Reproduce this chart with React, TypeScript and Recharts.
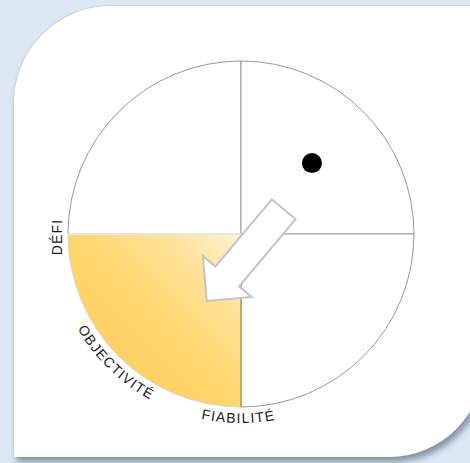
import { PieChart, Pie, Cell, ScatterChart, Scatter, XAxis, YAxis, ReferenceLine } from 'recharts';

// four equal quadrants, clockwise from top-left
const quadrants = [
  { name: 'top-left', value: 1 },
  { name: 'top-right', value: 1 },
  { name: 'bottom-right', value: 1 },
  { name: 'bottom-left', value: 1 },
];
const quadrantFills = ['#ffffff', '#ffffff', '#ffffff', 'url(#goldFill)'];
const quadrantStrokes = ['#9a9a9a', '#9a9a9a', '#9a9a9a', '#d6d6d6'];

// labels of the highlighted quadrant: start edge, middle, end edge
const edgeLabels = ['DÉFI', 'OBJECTIVITÉ', 'FIABILITÉ'];

// position marker, in unit-circle coordinates
const positions = [{ x: 0.41, y: 0.41 }];

// movement arrow: tail -> tip, unit-circle coordinates
const arrowSegment = [
  { x: 0.247, y: 0.143 },
  { x: -0.198, y: -0.387 },
];

const W = 470;
const H = 463;
const CX = 241;
const CY = 234;
const R = 173;

const FONT = '"Liberation Sans", Arial, sans-serif';

function polar(cx: number, cy: number, r: number, deg: number) {
  const a = (deg * Math.PI) / 180;
  return { x: cx + r * Math.cos(a), y: cy - r * Math.sin(a) };
}

// arc drawn counter-clockwise on screen, so text sits upright outside the bottom
function arcPath(cx: number, cy: number, r: number, a0: number, a1: number) {
  const p0 = polar(cx, cy, r, a0);
  const p1 = polar(cx, cy, r, a1);
  const large = a1 - a0 > 180 ? 1 : 0;
  return `M ${p0.x} ${p0.y} A ${r} ${r} 0 ${large} 0 ${p1.x} ${p1.y}`;
}

function QuadrantLabels(props: any) {
  const { cx, cy, outerRadius, startAngle, endAngle, index } = props;
  if (index !== 3) return <g />;
  const mid = (startAngle + endAngle) / 2;
  const lo = Math.min(startAngle, endAngle);
  const rText = outerRadius + 16;
  const textStyle = { fontFamily: FONT, fontSize: 14, letterSpacing: 1.2, fill: '#1a1a1a' };
  const dx = cx - outerRadius - 6;
  const dy = cy + 3;
  return (
    <g>
      <defs>
        <path id="arcMid" d={arcPath(cx, cy, rText, mid - 40, mid + 40)} />
        <path id="arcEnd" d={arcPath(cx, cy, rText, lo + 50, lo + 130)} />
      </defs>
      <line x1={cx} y1={cy} x2={cx} y2={cy + outerRadius} stroke="#c39a45" strokeWidth={1.5} />
      <line x1={cx - outerRadius} y1={cy} x2={cx} y2={cy} stroke="#e6e6e6" strokeWidth={2} />
      <text x={dx} y={dy} transform={`rotate(-90 ${dx} ${dy})`} textAnchor="middle" style={textStyle}>
        {edgeLabels[0]}
      </text>
      <text style={textStyle}>
        <textPath href="#arcMid" startOffset="51%" textAnchor="middle">
          {edgeLabels[1]}
        </textPath>
      </text>
      <text style={textStyle}>
        <textPath href="#arcEnd" startOffset="49%" textAnchor="middle">
          {edgeLabels[2]}
        </textPath>
      </text>
    </g>
  );
}

function BlockArrow(props: any) {
  const { x1, y1, x2, y2 } = props;
  const dx = x2 - x1;
  const dy = y2 - y1;
  const len = Math.hypot(dx, dy);
  const ux = dx / len;
  const uy = dy / len;
  const nx = -uy;
  const ny = ux;
  const shaft = 15.5;
  const head = 32;
  const headLen = 32;
  const bx = x2 - ux * headLen;
  const by = y2 - uy * headLen;
  const pts = [
    [x1 + nx * shaft, y1 + ny * shaft],
    [bx + nx * shaft, by + ny * shaft],
    [bx + nx * head, by + ny * head],
    [x2, y2],
    [bx - nx * head, by - ny * head],
    [bx - nx * shaft, by - ny * shaft],
    [x1 - nx * shaft, y1 - ny * shaft],
  ];
  return (
    <polygon
      points={pts.map((p) => p.join(',')).join(' ')}
      fill="#ffffff"
      stroke="#c4c4c4"
      strokeWidth={2}
      strokeLinejoin="miter"
    />
  );
}

function Marker(props: any) {
  return <circle cx={props.cx} cy={props.cy} r={10} fill="#000000" />;
}

export default function App() {
  return (
    <div
      style={{
        position: 'absolute',
        left: 0,
        top: 0,
        width: W,
        height: H,
        overflow: 'hidden',
        background: '#dce9f5',
      }}
    >
      <div
        style={{
          position: 'absolute',
          left: 13,
          top: 5,
          width: 470,
          height: 451,
          background: '#ffffff',
          borderTop: '1px solid #cbd3db',
          borderLeft: '1px solid #cbd3db',
          borderRadius: '98px 0 95px 0',
          boxShadow: '3px 5px 6px rgba(70, 90, 110, 0.6)',
        }}
      />
      <div style={{ position: 'absolute', left: 0, top: 0 }}>
        <PieChart width={W} height={H} margin={{ top: 0, right: 0, bottom: 0, left: 0 }}>
          <defs>
            <linearGradient id="goldFill" x1="1" y1="0" x2="0" y2="1">
              <stop offset="0%" stopColor="#fff3d4" />
              <stop offset="22%" stopColor="#ffe39a" />
              <stop offset="50%" stopColor="#ffd66e" />
              <stop offset="100%" stopColor="#fdc852" />
            </linearGradient>
          </defs>
          <Pie
            data={quadrants}
            dataKey="value"
            cx={CX}
            cy={CY}
            outerRadius={R}
            startAngle={180}
            endAngle={-180}
            isAnimationActive={false}
            labelLine={false}
            label={QuadrantLabels}
          >
            {quadrants.map((q, i) => (
              <Cell key={q.name} fill={quadrantFills[i]} stroke={quadrantStrokes[i]} strokeWidth={1} />
            ))}
          </Pie>
        </PieChart>
      </div>
      <div style={{ position: 'absolute', left: 0, top: 0 }}>
        <ScatterChart
          width={W}
          height={H}
          margin={{ top: CY - R, bottom: H - (CY + R), left: CX - R, right: W - (CX + R) }}
        >
          <XAxis type="number" dataKey="x" domain={[-1, 1]} hide />
          <YAxis type="number" dataKey="y" domain={[-1, 1]} hide />
          <ReferenceLine segment={arrowSegment} shape={BlockArrow} ifOverflow="visible" />
          <Scatter data={positions} shape={Marker} isAnimationActive={false} />
        </ScatterChart>
      </div>
    </div>
  );
}
